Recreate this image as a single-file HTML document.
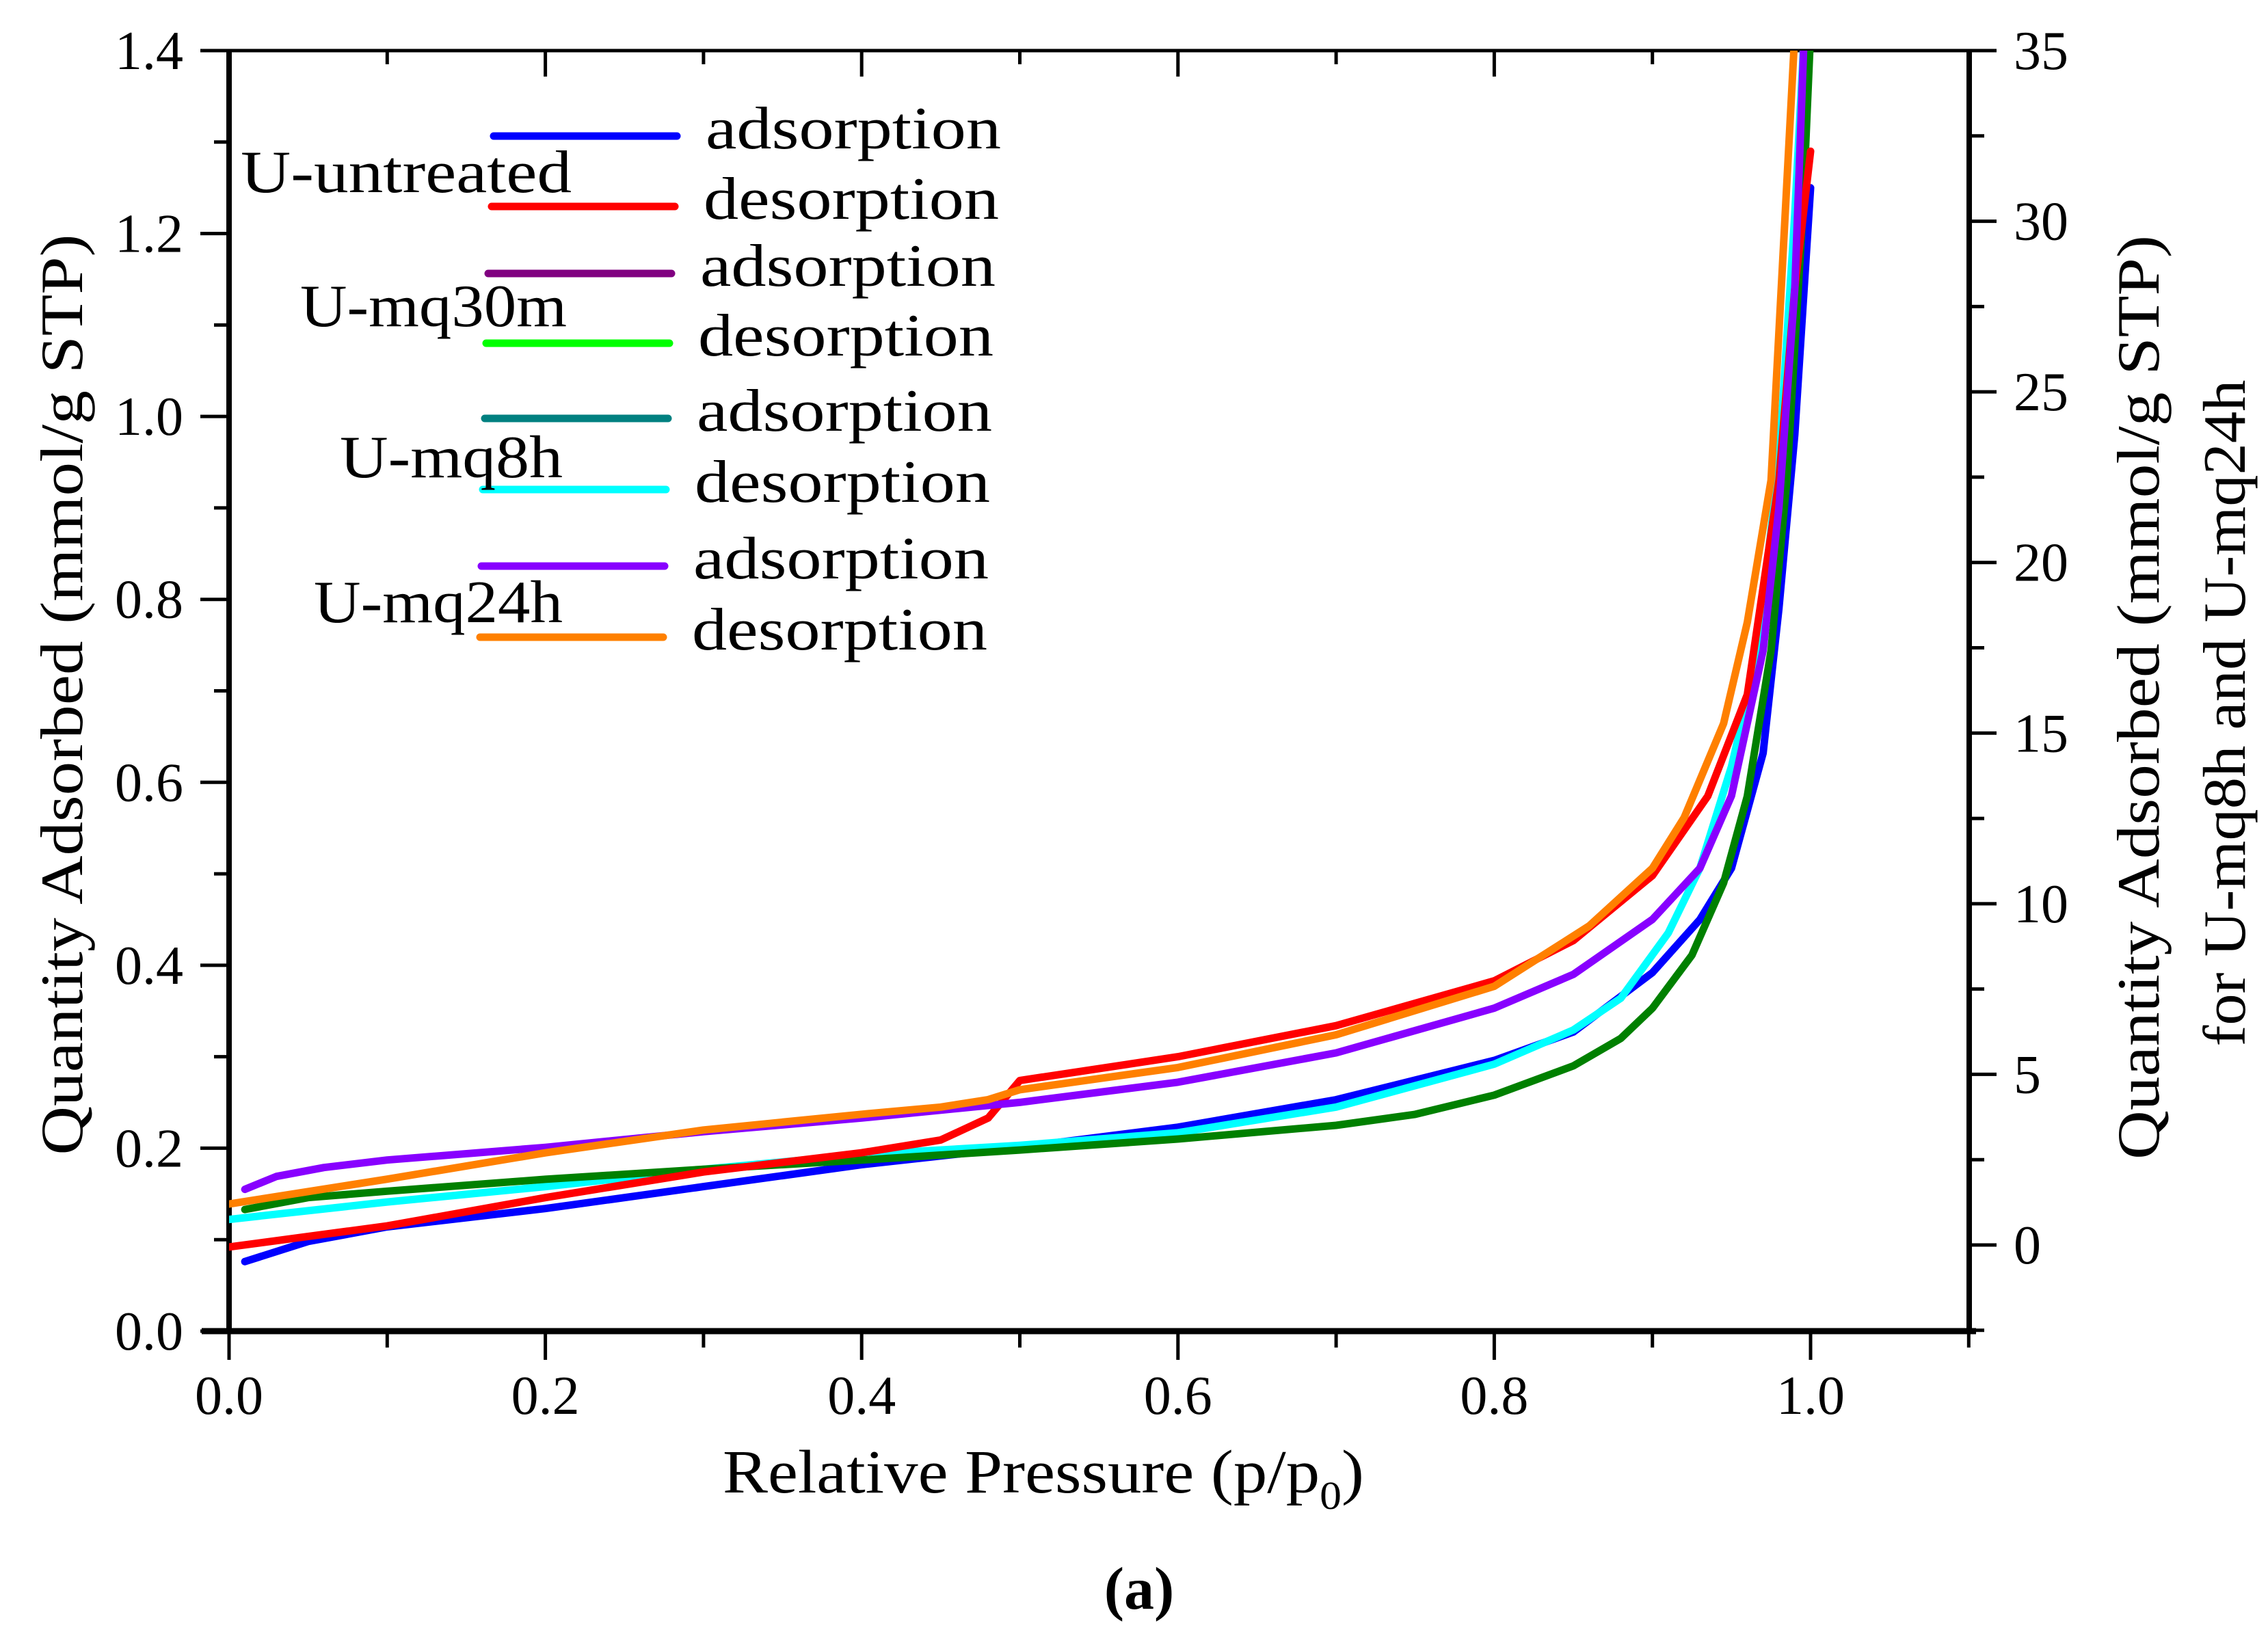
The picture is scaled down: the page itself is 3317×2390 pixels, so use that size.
<!DOCTYPE html>
<html><head><meta charset="utf-8"><style>
html,body{margin:0;padding:0;background:#fff;}
svg{display:block;font-family:"Liberation Serif",serif;}
</style></head><body>
<svg id="chart" width="3317" height="2390" viewBox="0 0 3317 2390" xmlns="http://www.w3.org/2000/svg">
<defs><clipPath id="plotclip"><rect x="335" y="74" width="2545" height="1873"/></clipPath></defs>
<g id="axes"></g>
<g id="series" clip-path="url(#plotclip)"></g>
<g id="legend"></g>
<text x="1057" y="2183" font-size="90" textLength="938" lengthAdjust="spacingAndGlyphs">Relative Pressure (p/p<tspan font-size="58" dy="24">0</tspan><tspan dy="-24">)</tspan></text>
<text x="1666" y="2353" font-size="88" font-weight="bold" text-anchor="middle">(a)</text>
<text x="0" y="0" font-size="88" text-anchor="middle" textLength="1347" lengthAdjust="spacingAndGlyphs" transform="translate(120,1016) rotate(-90)">Quantity Adsorbed (mmol/g STP)</text>
<text x="0" y="0" font-size="88" text-anchor="middle" textLength="1352" lengthAdjust="spacingAndGlyphs" transform="translate(3157,1020) rotate(-90)">Quantity Adsorbed (mmol/g STP)</text>
<text x="0" y="0" font-size="88" text-anchor="middle" textLength="975" lengthAdjust="spacingAndGlyphs" transform="translate(3283,1043) rotate(-90)">for U-mq8h and U-mq24h</text>
</svg>
<script>
const xTicks=[0,0.2,0.4,0.6,0.8,1.0];
const xTickLabels=["0.0","0.2","0.4","0.6","0.8","1.0"];
const yLeftTicks=[0,0.2,0.4,0.6,0.8,1.0,1.2,1.4];
const yLeftTickLabels=["0.0","0.2","0.4","0.6","0.8","1.0","1.2","1.4"];
const yRightTicks=[0,5,10,15,20,25,30,35];
const yRightTickLabels=["0","5","10","15","20","25","30","35"];

const untreatedAdsX=[0.01,0.05,0.1,0.2,0.3,0.4,0.5,0.6,0.7,0.8,0.85,0.9,0.93,0.95,0.97,0.98,0.99,1.0];
const untreatedAdsY=[0.076,0.098,0.114,0.134,0.158,0.182,0.201,0.223,0.253,0.296,0.327,0.392,0.45,0.506,0.632,0.79,0.98,1.25];
const untreatedDesX=[0.0,0.1,0.2,0.3,0.4,0.45,0.48,0.5,0.6,0.7,0.8,0.85,0.9,0.935,0.96,0.98,0.99,1.0];
const untreatedDesY=[0.092,0.115,0.146,0.174,0.195,0.209,0.233,0.274,0.30,0.334,0.383,0.427,0.498,0.585,0.696,0.93,1.14,1.29];
const mq30mX=[0.01,0.05,0.1,0.2,0.3,0.4,0.5,0.6,0.7,0.75,0.8,0.85,0.88,0.9,0.925,0.945,0.96,0.975,0.985,0.995,1.0];
const mq30mY=[0.133,0.146,0.153,0.166,0.177,0.187,0.198,0.21,0.225,0.237,0.258,0.29,0.32,0.353,0.411,0.49,0.585,0.744,0.93,1.22,1.42];
const mq8hDesX=[0.0,0.1,0.2,0.3,0.4,0.5,0.6,0.7,0.8,0.85,0.88,0.91,0.93,0.95,0.965,0.98,0.99,0.996];
const mq8hDesY=[0.75,1.26,1.71,2.22,2.65,2.92,3.29,4.04,5.30,6.30,7.23,9.14,11.04,14.02,16.97,22.92,30.2,35.5];
const mq24hAdsX=[0.01,0.03,0.06,0.1,0.2,0.3,0.4,0.5,0.6,0.7,0.8,0.85,0.9,0.93,0.95,0.97,0.98,0.99,0.996];
const mq24hAdsY=[1.63,2.01,2.27,2.49,2.86,3.32,3.72,4.18,4.77,5.63,6.94,7.93,9.54,11.04,13.16,17.42,21.6,28.0,35.5];
const mq24hDesX=[0.0,0.1,0.2,0.3,0.4,0.45,0.48,0.5,0.6,0.7,0.8,0.86,0.9,0.92,0.945,0.96,0.975,0.99];
const mq24hDesY=[1.20,1.93,2.70,3.37,3.83,4.04,4.26,4.55,5.20,6.16,7.58,9.35,11.04,12.52,15.28,18.25,22.41,35.5];

const NS="http://www.w3.org/2000/svg";
const X0=335,XPX=2313,YB=1947,YT=74,RIGHT=2880;
function sx(v){return X0+v*XPX;}
function syL(v){return YB-v*(YB-YT)/1.4;}
function syR(v){return 1821-v*(1821-74)/35;}
function mk(tag,attrs,parent){const e=document.createElementNS(NS,tag);for(const k in attrs)e.setAttribute(k,attrs[k]);parent.appendChild(e);return e;}
const axes=document.getElementById('axes');
let e;
e=mk('rect',{x:X0,y:YT,width:RIGHT-X0,height:YB-YT,fill:'none',stroke:'#000','stroke-width':5},axes);


e=mk('line',{x1:X0-40,y1:YB,x2:RIGHT+10,y2:YB,stroke:'#000','stroke-width':9},axes);


e=mk('line',{x1:X0,y1:YT,x2:X0,y2:YB,stroke:'#000','stroke-width':8},axes);


e=mk('line',{x1:RIGHT,y1:YT,x2:RIGHT,y2:YB,stroke:'#000','stroke-width':8},axes);


for(let i=0;i<=11;i++){
  const v=i*0.1, x=sx(v), major=(i%2===0);
  e=mk('line',{x1:x,y1:YB,x2:x,y2:YB+(major?42:24),stroke:'#000','stroke-width':5},axes);
  
  
  e=mk('line',{x1:x,y1:YT,x2:x,y2:YT+(major?38:20),stroke:'#000','stroke-width':5},axes);
  
  
}
xTicks.forEach((v,i)=>{
  const t=mk('text',{x:sx(v),y:2068,'font-size':80,'text-anchor':'middle'},axes);
  t.textContent=xTickLabels[i];
  
  
});
for(let i=0;i<=14;i++){
  const v=i*0.1,y=syL(v),major=(i%2===0);
  e=mk('line',{x1:X0,y1:y,x2:X0-(major?42:22),y2:y,stroke:'#000','stroke-width':5},axes);
  
  
}
yLeftTicks.forEach((v,i)=>{
  const t=mk('text',{x:268,y:syL(v)+27,'font-size':80,'text-anchor':'end'},axes);
  t.textContent=yLeftTickLabels[i];
  
  
});
for(let i=-1;i<=14;i++){
  const v=i*2.5,y=syR(v),major=(i%2===0);
  e=mk('line',{x1:RIGHT,y1:y,x2:RIGHT+(major?40:22),y2:y,stroke:'#000','stroke-width':5},axes);
  
  
}
yRightTicks.forEach((v,i)=>{
  const t=mk('text',{x:2945,y:syR(v)+27,'font-size':80,'text-anchor':'start'},axes);
  t.textContent=yRightTickLabels[i];
  
  
});
const ser=document.getElementById('series');
function line(xs,ys,fy,color,name){
  const d=xs.map((x,i)=>(i?'L':'M')+sx(x).toFixed(1)+','+fy(ys[i]).toFixed(1)).join(' ');
  const p=mk('path',{d:d,fill:'none',stroke:color,'stroke-width':11,'stroke-linejoin':'round','stroke-linecap':'round'},ser);
  
  
}
line(untreatedAdsX,untreatedAdsY,syL,'#0000ff','u-untreated-adsorption-line');
line(mq8hDesX,mq8hDesY,syR,'#00ffff','u-mq8h-desorption-line');
line(mq30mX,mq30mY,syL,'#008000','u-mq30m-line');
line(untreatedDesX,untreatedDesY,syL,'#ff0000','u-untreated-desorption-line');
line(mq24hAdsX,mq24hAdsY,syR,'#8800ff','u-mq24h-adsorption-line');
line(mq24hDesX,mq24hDesY,syR,'#ff8000','u-mq24h-desorption-line');
const lg=document.getElementById('legend');
const legColors=['#0000ff','#ff0000','#800080','#00ff00','#008080','#00ffff','#8800ff','#ff8000'];
const legText=['adsorption','desorption','adsorption','desorption','adsorption','desorption','adsorption','desorption'];
const legY=[199,302,400,502,612,716,828,932];
const legX=[722,719,714,711,709,706,704,702];
legColors.forEach((c,i)=>{
  const l=mk('line',{x1:legX[i],y1:legY[i],x2:legX[i]+268,y2:legY[i],stroke:c,'stroke-width':11,'stroke-linecap':'round'},lg);
  
  
  const t=mk('text',{x:legX[i]+310,y:legY[i]+18,'font-size':88,textLength:432,lengthAdjust:'spacingAndGlyphs'},lg);
  t.textContent=legText[i];
  
  
});
const groups=['U-untreated','U-mq30m','U-mq8h','U-mq24h'];
const gx=[352,439,497,459], gy=[281,477,698,910], gw=[484,390,326,364];
groups.forEach((g,i)=>{
  const t=mk('text',{x:gx[i],y:gy[i],'font-size':88,textLength:gw[i],lengthAdjust:'spacingAndGlyphs'},lg);
  t.textContent=g;
  
  
});
</script>
</body></html>
